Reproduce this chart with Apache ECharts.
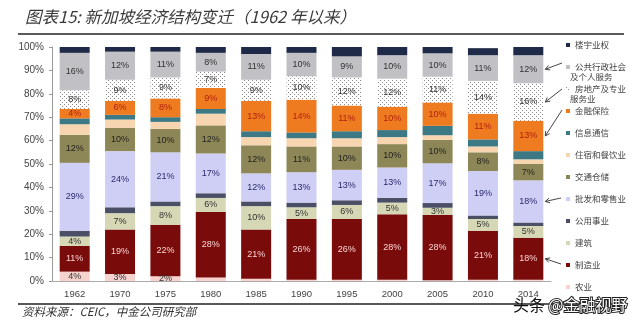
<!DOCTYPE html>
<html>
<head>
<meta charset="utf-8">
<script src="https://cdn.jsdelivr.net/npm/echarts@6/dist/echarts.min.js"></script>
<style>html,body{margin:0;padding:0;background:#fff}#c{width:640px;height:324px}</style>
</head>
<body>
<div id="c"></div>
<script>
// ---- data (percent of GDP) ----
const years = ['1962','1970','1975','1980','1985','1990','1995','2000','2005','2010','2014'];
const agri      = [4, 3, 2, 1.5, 1, 0.5, 0.5, 0.5, 0.3, 0.5, 0.5];
const manu      = [11, 19, 22, 28, 21, 26, 26, 28, 28, 21, 18];
const constr    = [4, 7, 8, 6, 10, 5, 6, 5, 3, 5, 5];
const util      = [2.5, 2.5, 2, 2, 2, 2, 2, 2, 2, 1.5, 1.5];
const trade     = [29, 24, 21, 17, 12, 13, 13, 13, 17, 19, 18];
const transport = [12, 10, 10, 12, 12, 11, 10, 10, 10, 8, 7];
const accom     = [4.5, 3.5, 3, 5, 3.5, 3.5, 3.5, 3, 2, 2.5, 2];
const info      = [2.5, 2, 2, 2, 2.5, 2.5, 3, 3, 4, 3, 3.5];
const finance   = [4, 6, 8, 9, 13, 14, 11, 10, 10, 11, 13];
const realty    = [8, 9, 9, 7, 9, 10, 12, 12, 11, 14, 16];
const publicSvc = [16, 12, 11, 8, 11, 10, 9, 10, 10, 11, 12];
const ownership = [2.5, 2, 2, 2.5, 3, 2.5, 4, 3.5, 2.7, 3, 3.5];
const yTicks = [0,10,20,30,40,50,60,70,80,90,100];

// dotted pattern for real estate
const pc = document.createElement('canvas');
pc.width = 4; pc.height = 4;
const px = pc.getContext('2d');
px.fillStyle = '#ffffff'; px.fillRect(0,0,4,4);
px.fillStyle = '#8a8a8a'; px.fillRect(0,0,1,1); px.fillRect(2,2,1,1);
const dotted = {image: pc, repeat: 'repeat'};

const seriesDefs = [
  {name:'农业', data:agri, color:'#f6d3ce', label:'#333', only:3},
  {name:'制造业', data:manu, color:'#7a0b0b', label:'#f9d2d2'},
  {name:'建筑', data:constr, color:'#d6d7b5', label:'#333'},
  {name:'公用事业', data:util, color:'#4a4f66', label:null},
  {name:'批发和零售业', data:trade, color:'#cfcff6', label:'#2a2a6e'},
  {name:'交通仓储', data:transport, color:'#8d8757', label:'#222'},
  {name:'住宿和餐饮业', data:accom, color:'#f8d5b1', label:null},
  {name:'信息通信', data:info, color:'#3d7984', label:null},
  {name:'金融保险', data:finance, color:'#ee7b20', label:'#b3200f'},
  {name:'房地产及专业服务业', data:realty, color:dotted, label:'#333'},
  {name:'公共行政社会及个人服务', data:publicSvc, color:'#c0c0c5', label:'#333'},
  {name:'楼宇业权', data:ownership, color:'#1e2a47', label:null}
];

const legendShort = {
  '房地产及专业服务业':'房地产及专业',
  '公共行政社会及个人服务':'公共行政社会'
};

const series = seriesDefs.map(d => ({
  name: d.name,
  type: 'bar',
  stack: 'total',
  barWidth: 30,
  data: d.data,
  itemStyle: {color: d.color},
  label: {
    show: d.label !== null,
    position: 'inside',
    fontSize: 9,
    fontFamily: 'Liberation Sans',
    color: d.label || '#333',
    formatter: p => (d.only !== undefined && p.dataIndex >= d.only) ? '' : p.value + '%'
  },
  emphasis: {disabled: true}
}));

const chart = echarts.init(document.getElementById('c'), null, {renderer:'canvas'});

const baseGraphic = [
  {id:'title', type:'text', left:25, top:8, style:{text:'图表15: 新加坡经济结构变迁（1962 年以来）', font:'italic 16.5px "Noto Sans CJK SC"', fill:'#3a3a3a'}},
  {id:'topline', type:'line', shape:{x1:18, y1:34, x2:624, y2:34}, style:{stroke:'#222', lineWidth:1.5}},
  {id:'botline', type:'line', shape:{x1:18, y1:304, x2:624, y2:304}, style:{stroke:'#222', lineWidth:1.5}},
  {id:'source', type:'text', left:22, top:306, style:{text:'资料来源：CEIC，中金公司研究部', font:'italic 11.5px "Noto Sans CJK SC"', fill:'#333'}},
  {id:'lg2a', type:'text', left:570, top:73, style:{text:'及个人服务', font:'8.5px "Noto Sans CJK SC"', fill:'#444'}},
  {id:'lg2b', type:'text', left:570, top:95, style:{text:'服务业', font:'8.5px "Noto Sans CJK SC"', fill:'#444'}},
  {id:'wm', type:'text', left:513, top:296, z:100, style:{
    rich:{
      a:{fontSize:16, fontFamily:'Noto Sans CJK SC', fill:'#111'},
      b:{fontSize:16, fontFamily:'Noto Sans CJK SC', fill:'#ffffff', stroke:'#222', lineWidth:2}
    },
    text:'{a|头条} {b|@金融视野}'
  }}
];

chart.setOption({
  animation: false,
  backgroundColor: '#fff',
  grid: {left:52, right:89, top:47, bottom:43},
  legend: {
    orient:'vertical', left:561, top:34,
    itemWidth:4, itemHeight:4, itemGap:10, icon:'rect',
    selectedMode:false,
    data: seriesDefs.map(d => d.name).reverse(),
    formatter: n => legendShort[n] || n,
    textStyle:{fontSize:8.5, lineHeight:12, color:'#444', fontFamily:'Noto Sans CJK SC', padding:[0,0,0,0]}
  },
  xAxis: {
    type:'category', data: years,
    axisLine:{lineStyle:{color:'#aaa'}},
    axisTick:{show:false},
    axisLabel:{fontSize:9.5, color:'#444', margin:8, fontFamily:'Liberation Sans'}
  },
  yAxis: {
    type:'value', min:0, max:100, interval:10,
    axisLine:{show:true, lineStyle:{color:'#999'}},
    axisTick:{show:true, length:3, lineStyle:{color:'#999'}},
    splitLine:{show:false},
    axisLabel:{fontSize:10, color:'#444', margin:8, fontFamily:'Liberation Sans', formatter: v => yTicks.includes(v) ? v + '%' : ''}
  },
  series: series,
  graphic: baseGraphic
});

// arrows from legend to the 2014 bar
function segMid(k, idx) {
  let s = 0;
  for (let i = 0; i < k; i++) s += seriesDefs[i].data[idx];
  return s + seriesDefs[k].data[idx] / 2;
}
const last = years.length - 1;
const xRight = chart.convertToPixel({xAxisIndex:0}, years[last]) + 15 + 2;
const arrowSpecs = [
  {k:10, sx:562, sy:63},
  {k:9, sx:562, sy:89},
  {k:8, sx:562, sy:110},
  {k:4, sx:561, sy:198},
  {k:1, sx:561, sy:264}
];
const arrows = [];
arrowSpecs.forEach((a, i) => {
  const ex = xRight, ey = chart.convertToPixel({yAxisIndex:0}, segMid(a.k, last));
  const ang = Math.atan2(a.sy - ey, a.sx - ex);
  const L = 5, w = 0.5;
  arrows.push({id:'al'+i, type:'line', z:50, shape:{x1:a.sx, y1:a.sy, x2:ex, y2:ey}, style:{stroke:'#333', lineWidth:0.9}});
  arrows.push({id:'ah'+i, type:'polyline', z:50, shape:{points:[
    [ex + L*Math.cos(ang + w), ey + L*Math.sin(ang + w)], [ex, ey], [ex + L*Math.cos(ang - w), ey + L*Math.sin(ang - w)]
  ]}, style:{stroke:'#333', lineWidth:0.9, fill:null}});
});
chart.setOption({graphic: baseGraphic.concat(arrows)});
</script>
</body>
</html>
